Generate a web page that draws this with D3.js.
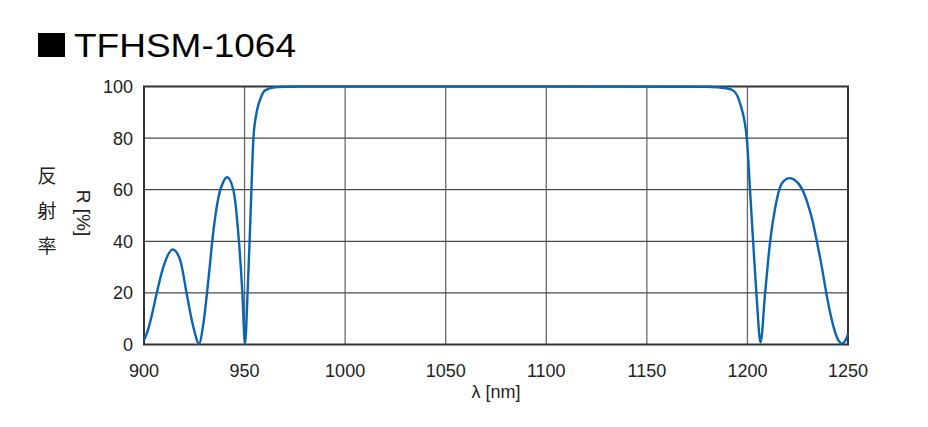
<!DOCTYPE html>
<html><head><meta charset="utf-8">
<script src="https://cdn.jsdelivr.net/npm/d3@7"></script>
<style>body{margin:0;background:#fff}svg{display:block}</style>
</head><body>
<svg id="c" width="928" height="427"></svg>
<script>
const xTicks = [900, 950, 1000, 1050, 1100, 1150, 1200, 1250];
const yTicks = [0, 20, 40, 60, 80, 100];
const wavelength = [900, 901.5, 903, 906.3, 909.6, 914.3, 918, 921.2, 924.5, 927.4, 929.5, 932, 934.5, 937, 939.4, 941.3, 944.4, 947.2, 948.9, 950.2, 951.5, 952.5, 953.4, 954.4, 956, 958, 960.2, 965, 970, 980, 1000, 1100, 1180, 1186, 1189.7, 1193, 1196.4, 1199.7, 1201.3, 1203, 1204.7, 1206.5, 1208.8, 1211.3, 1213.8, 1217.1, 1220.9, 1223.5, 1227, 1230, 1232.5, 1234.5, 1237, 1239.2, 1241.5, 1243.5, 1245.3, 1247, 1248.7, 1250];
const reflectance = [1.8, 4.5, 8.5, 19.8, 30, 36.8, 32.7, 19.8, 6.9, 0.4, 8, 25, 44, 57, 63, 64.8, 60, 40, 20, 0.2, 20, 40, 60, 80, 90, 95.5, 98.5, 99.7, 99.9, 100, 100, 100, 99.9, 99.6, 99.3, 98.4, 93.3, 79.8, 59.8, 37.8, 17, 0.8, 20, 40, 53, 62.4, 64.5, 63.8, 60.5, 54.5, 47.5, 40, 30, 20, 11, 5, 1.5, 0.4, 1.5, 4];

const svg = d3.select("#c");
const x = d3.scaleLinear().domain([900, 1250]).range([144, 848]);
const y = d3.scaleLinear().domain([0, 100]).range([344.5, 86.5]);

// grid
svg.append("g").selectAll("line").data(xTicks.slice(1, -1)).join("line")
  .attr("x1", d => x(d)).attr("x2", d => x(d)).attr("y1", y(0)).attr("y2", y(100))
  .attr("stroke", "#6a6a6a").attr("stroke-width", 1.3);
svg.append("g").selectAll("line").data(yTicks.slice(1, -1)).join("line")
  .attr("x1", x(900)).attr("x2", x(1250)).attr("y1", d => y(d)).attr("y2", d => y(d))
  .attr("stroke", "#4a4a4a").attr("stroke-width", 1.3);

// frame
svg.append("rect").attr("x", x(900)).attr("y", y(100)).attr("width", x(1250) - x(900)).attr("height", y(0) - y(100))
  .attr("fill", "none").attr("stroke", "#333").attr("stroke-width", 2);

// curve
const pts = wavelength.map((w, i) => [w, reflectance[i]]);
svg.append("path").datum(pts)
  .attr("d", d3.line().x(d => x(d[0])).y(d => y(d[1])).curve(d3.curveMonotoneX))
  .attr("fill", "none").attr("stroke", "#0a64b4").attr("stroke-width", 2.4);

const font = "Helvetica, Arial, 'Liberation Sans', sans-serif";
// axes labels
svg.append("g").selectAll("text").data(xTicks).join("text")
  .attr("x", d => x(d)).attr("y", 377).attr("text-anchor", "middle")
  .attr("font-family", font).attr("font-size", 18).attr("fill", "#222").text(d => d);
svg.append("g").selectAll("text").data(yTicks).join("text")
  .attr("x", 133).attr("y", d => y(d) + 6.5).attr("text-anchor", "end")
  .attr("font-family", font).attr("font-size", 18).attr("fill", "#222").text(d => d);

svg.append("text").attr("x", 496).attr("y", 398).attr("text-anchor", "middle")
  .attr("font-family", font).attr("font-size", 18).attr("fill", "#222").text("λ [nm]");
svg.append("text").attr("transform", "translate(77,213) rotate(90)").attr("text-anchor", "middle")
  .attr("font-family", font).attr("font-size", 19).attr("fill", "#222").text("R [%]");

const jp = ["反", "射", "率"];
svg.append("g").selectAll("text").data(jp).join("text")
  .attr("x", 47).attr("y", (d, i) => 183 + i * 35).attr("text-anchor", "middle")
  .attr("font-family", "'Noto Sans CJK JP'").attr("font-size", 19).attr("fill", "#222").text(d => d);

// title
svg.append("rect").attr("x", 38).attr("y", 33).attr("width", 27).attr("height", 24).attr("fill", "#000");
svg.append("text").attr("x", 74).attr("y", 57).attr("font-family", font).attr("font-size", 33)
  .attr("textLength", 222).attr("lengthAdjust", "spacingAndGlyphs")
  .attr("fill", "#000").text("TFHSM-1064");
</script>
</body></html>
